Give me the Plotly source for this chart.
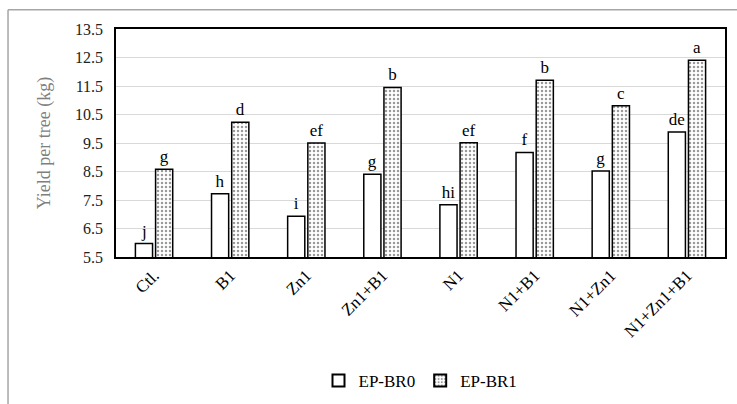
import plotly.graph_objects as go

categories = ["Ctl.", "B1", "Zn1", "Zn1+B1", "N1", "N1+B1", "N1+Zn1", "N1+Zn1+B1"]
br0_values = [5.97, 7.72, 6.93, 8.40, 7.33, 9.17, 8.52, 9.89]
br1_values = [8.58, 10.23, 9.50, 11.45, 9.51, 11.70, 10.81, 12.40]
br0_letters = ["j", "h", "i", "g", "hi", "f", "g", "de"]
br1_letters = ["g", "d", "ef", "b", "ef", "b", "c", "a"]
y_ticks = [5.5, 6.5, 7.5, 8.5, 9.5, 10.5, 11.5, 12.5, 13.5]

serif = "Times New Roman, Liberation Serif, serif"

fig = go.Figure()
fig.add_trace(go.Bar(
    name="EP-BR0", x=categories, y=br0_values, text=br0_letters,
    textposition="outside", textfont=dict(family=serif, size=17, color="black"),
    marker=dict(color="white", line=dict(color="black", width=1.5)),
    cliponaxis=False,
))
fig.add_trace(go.Bar(
    name="EP-BR1", x=categories, y=br1_values, text=br1_letters,
    textposition="outside", textfont=dict(family=serif, size=17, color="black"),
    marker=dict(color="white", line=dict(color="black", width=1.5),
                pattern=dict(shape=".", fgcolor="#333333", bgcolor="white", size=4, solidity=0.3)),
    cliponaxis=False,
))

fig.update_layout(
    width=737, height=404,
    margin=dict(l=116, r=12, t=29, b=147, autoexpand=False),
    paper_bgcolor="white", plot_bgcolor="white",
    barmode="group", bargap=0.47, bargroupgap=0.15,
    font=dict(family=serif, color="black"),
    showlegend=True,
    legend=dict(orientation="h", x=0.5, xanchor="center", y=-0.544, yanchor="middle",
                font=dict(family=serif, size=17, color="black"),
                traceorder="normal", itemsizing="constant"),
    xaxis=dict(tickangle=-45, tickfont=dict(family=serif, size=17, color="black"),
               showline=True, linecolor="black", linewidth=1.5, mirror=True,
               ticks="", automargin=False),
    yaxis=dict(range=[5.5, 13.5], tickvals=y_ticks, ticktext=[f"{v:.1f}" for v in y_ticks],
               tickfont=dict(family=serif, size=16, color="#222222"),
               ticklabelstandoff=8,
               showgrid=True, gridcolor="#d9d9d9", gridwidth=1.2,
               showline=True, linecolor="black", linewidth=1.5, mirror=True,
               ticks="", zeroline=False, automargin=False,
               title=dict(text="Yield per tree (kg)", font=dict(family=serif, size=18, color="#7f7f7f"),
                          standoff=20)),
    shapes=[
        dict(type="line", xref="paper", yref="paper", x0=-0.1773, x1=1.05, y0=1.084, y1=1.084,
             line=dict(color="#a6a6a6", width=1.5), layer="above"),
        dict(type="line", xref="paper", yref="paper", x0=-0.1773, x1=-0.1773, y0=-0.8, y1=1.084,
             line=dict(color="#a6a6a6", width=1.5), layer="above"),
    ],
)

fig.write_html("out.html", config={"displayModeBar": False},
               post_script="document.body.style.margin='0';document.body.style.overflow='hidden';")
